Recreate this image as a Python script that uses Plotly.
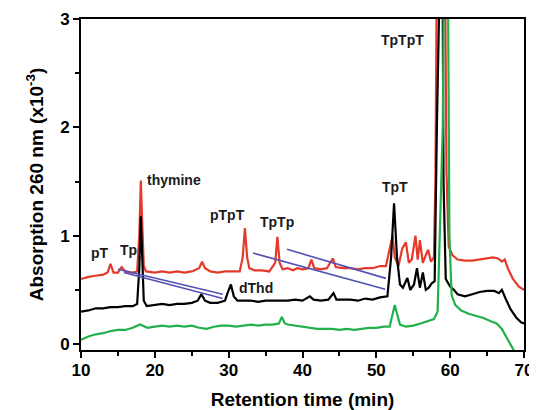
import plotly.graph_objects as go

# ---- data ----
red_x = [10, 11, 12, 13, 13.6, 14.0, 14.4, 15.0, 15.5, 16.0, 17.0, 17.6, 17.9, 18.1, 18.3, 18.5, 18.8,
         20, 21, 22, 23, 24, 25, 26.0, 26.4, 26.8, 27.5, 28.5, 29.5, 30.5, 31.5, 31.9, 32.2, 32.5, 32.8,
         33.5, 34.5, 35.5, 36.3, 36.6, 36.9, 37.3, 38, 38.7, 39.3, 40, 40.8, 41.2, 41.6, 42.5, 43.3,
         44.1, 44.5, 45.5, 46.5, 47.5, 48.5, 49.5, 50.5, 51.3, 51.8, 52.2, 52.5, 53.0, 53.5, 54.0, 54.4,
         54.8, 55.3, 55.6, 55.9, 56.3, 56.7, 57.0, 57.4, 57.8, 58.0, 58.2, 58.3, 59.2, 59.3, 59.5, 59.8,
         60.3, 61.0, 62.0, 63.0, 64.0, 65.0, 65.8, 66.5, 67.0, 67.4, 67.8, 68.5, 69.3, 70]
red_y = [0.60, 0.62, 0.63, 0.64, 0.66, 0.74, 0.66, 0.66, 0.71, 0.67, 0.66, 0.67, 1.00, 1.51, 1.10, 0.72, 0.67,
         0.66, 0.67, 0.66, 0.67, 0.66, 0.67, 0.70, 0.76, 0.70, 0.67, 0.66, 0.67, 0.67, 0.67, 0.80, 1.07, 0.80, 0.70,
         0.68, 0.68, 0.67, 0.75, 0.99, 0.75, 0.69, 0.70, 0.68, 0.70, 0.69, 0.70, 0.78, 0.70, 0.69, 0.70,
         0.79, 0.71, 0.70, 0.70, 0.69, 0.70, 0.70, 0.72, 0.72, 0.88, 1.00, 0.80, 0.72, 0.88, 0.94, 0.75,
         0.78, 1.00, 0.78, 0.96, 0.75, 0.82, 0.87, 0.76, 0.80, 1.50, 3.20, 4.50, 4.50, 3.20, 1.60, 0.90,
         0.82, 0.78, 0.77, 0.77, 0.78, 0.79, 0.80, 0.79, 0.76, 0.78, 0.70, 0.60, 0.53, 0.50]

black_x = [10, 11, 12, 13, 14, 15, 16, 17, 17.6, 17.9, 18.1, 18.3, 18.5, 18.9, 20, 21, 22, 23, 24, 25,
           25.8, 26.3, 26.8, 27.5, 28.5, 29.5, 29.9, 30.3, 30.7, 31.2, 32, 33, 34, 35, 36, 37, 38, 39, 40,
           41, 41.5, 42.5, 43.5, 44.2, 44.6, 45.5, 46.5, 47.5, 48.5, 49.5, 50.5, 51.5, 52.0, 52.4, 52.8,
           53.2, 53.6, 54.2, 54.6, 55.1, 55.5, 55.9, 56.3, 56.7, 57.1, 57.5, 57.9, 58.2, 58.4, 58.9, 59.1,
           59.4, 60, 60.5, 61, 62, 63, 64, 65, 66, 66.6, 67, 67.5, 68.2, 69, 69.6, 70]
black_y = [0.30, 0.31, 0.33, 0.33, 0.34, 0.34, 0.35, 0.35, 0.37, 0.70, 1.18, 0.70, 0.40, 0.35, 0.36, 0.37,
           0.36, 0.37, 0.37, 0.38, 0.40, 0.46, 0.40, 0.38, 0.38, 0.40, 0.48, 0.55, 0.44, 0.40, 0.40, 0.40,
           0.39, 0.40, 0.40, 0.40, 0.40, 0.41, 0.40, 0.44, 0.41, 0.40, 0.41, 0.47, 0.41, 0.41, 0.41, 0.40,
           0.42, 0.41, 0.43, 0.44, 0.80, 1.30, 0.80, 0.55, 0.52, 0.61, 0.50, 0.55, 0.70, 0.52, 0.66, 0.50,
           0.52, 0.56, 0.58, 2.00, 4.50, 4.50, 1.50, 0.60, 0.53, 0.50, 0.46, 0.44, 0.46, 0.48, 0.49, 0.49,
           0.47, 0.50, 0.42, 0.32, 0.24, 0.20, 0.19]

green_x = [10, 11, 12, 13, 14, 15, 16, 17, 18, 19, 20, 21, 22, 23, 24, 25, 26, 27, 28, 29, 30, 31, 32,
           33, 34, 35, 36, 36.8, 37.2, 37.6, 38, 39, 40, 41, 42, 43, 44, 45, 46, 47, 48, 49, 50, 51, 51.8,
           52.2, 52.5, 52.8, 53.2, 54, 55, 56, 57, 57.8, 58.3, 59.0, 59.3, 59.6, 59.9, 60.2, 60.7, 61.5,
           62.5, 63.5, 64.5, 65.5, 66.3, 67, 67.7, 68.3, 68.8]
green_y = [0.04, 0.07, 0.09, 0.10, 0.12, 0.13, 0.13, 0.15, 0.18, 0.15, 0.16, 0.17, 0.16, 0.17, 0.16, 0.17,
           0.15, 0.14, 0.16, 0.17, 0.17, 0.16, 0.17, 0.18, 0.17, 0.18, 0.18, 0.19, 0.25, 0.19, 0.18, 0.17,
           0.16, 0.15, 0.14, 0.14, 0.14, 0.13, 0.14, 0.13, 0.14, 0.15, 0.15, 0.16, 0.16, 0.28, 0.36, 0.28,
           0.18, 0.16, 0.17, 0.19, 0.21, 0.23, 0.30, 2.00, 4.50, 4.50, 1.00, 0.45, 0.36, 0.31, 0.28, 0.26,
           0.24, 0.21, 0.19, 0.14, 0.06, -0.02, -0.08]

# blue guide strokes: (x0, y0, x1, y1)
blue_segments = [
    (15.0, 0.69, 29.2, 0.46),
    (15.8, 0.66, 29.2, 0.42),
    (33.3, 0.84, 51.2, 0.505),
    (37.9, 0.874, 51.3, 0.606),
]

peak_labels = ["pT", "Tp", "thymine", "pTpT", "TpTp", "dThd", "TpT", "TpTpT"]
label_x = [12.6, 16.4, 22.6, 29.8, 36.5, 33.7, 52.5, 53.5]
label_y = [0.84, 0.87, 1.51, 1.19, 1.13, 0.52, 1.45, 2.81]

x_ticks = [10, 20, 30, 40, 50, 60, 70]
y_ticks = [0, 1, 2, 3]

FONT = "Liberation Sans"

fig = go.Figure()
for xs, ys, col in [(red_x, red_y, "#e53a2b"), (black_x, black_y, "#000000"), (green_x, green_y, "#22b04b")]:
    fig.add_trace(go.Scatter(x=xs, y=ys, mode="lines", line=dict(color=col, width=2.2),
                             showlegend=False, hoverinfo="skip"))
for (x0, y0, x1, y1) in blue_segments:
    fig.add_trace(go.Scatter(x=[x0, x1], y=[y0, y1], mode="lines",
                             line=dict(color="#5252b4", width=1.6), showlegend=False, hoverinfo="skip"))

for t, xv, yv in zip(peak_labels, label_x, label_y):
    fig.add_annotation(x=xv, y=yv, text=t, showarrow=False,
                       font=dict(family=FONT, size=14, color="#1a1a1a", weight="bold"))

axis_common = dict(showline=True, linecolor="black", linewidth=2, mirror=True, ticks="outside",
                   ticklen=6, tickwidth=2, tickcolor="black", showgrid=False, zeroline=False,
                   automargin=False,
                   tickfont=dict(family=FONT, size=17, color="black", weight="bold"))

fig.update_xaxes(range=[10, 70], tickvals=x_ticks, ticklabelstandoff=-2,
                 minor=dict(ticks="outside", ticklen=4, tickwidth=2, tickcolor="black", dtick=5, tick0=5),
                 title=dict(text="Retention time (min)", font=dict(family=FONT, size=19, color="black", weight="bold"),
                            standoff=13),
                 **axis_common)
fig.update_yaxes(range=[-0.055, 3], tickvals=y_ticks,
                 minor=dict(ticks="outside", ticklen=4, tickwidth=2, tickcolor="black", dtick=0.5, tick0=0.5),
                 title=dict(text="Absorption 260 nm (x10<sup>-3</sup>)",
                            font=dict(family=FONT, size=19, color="black", weight="bold"), standoff=11),
                 **axis_common)

# the page adds an 8px body margin, so the figure is sized and offset to fill the 537x410 window
fig.update_layout(width=529, height=402, margin=dict(l=73, r=13, t=11, b=60),
                  plot_bgcolor="white", paper_bgcolor="white")
fig.write_html("out.html")
